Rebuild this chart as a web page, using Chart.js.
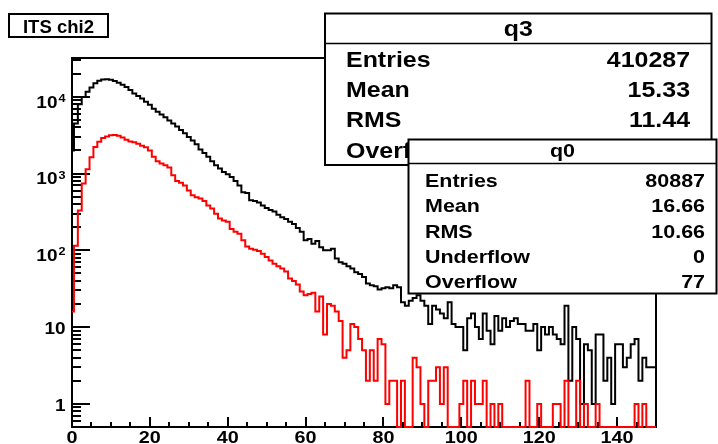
<!DOCTYPE html>
<html>
<head>
<meta charset="utf-8">
<title>ITS chi2</title>
<script src="https://cdn.jsdelivr.net/npm/chart.js@4.4.1/dist/chart.umd.min.js"></script>
<style>
  html, body { margin: 0; padding: 0; background: #fff; }
</style>
</head>
<body>
<canvas id="chi2Chart" width="718" height="444"></canvas>
<script>
// one count per unit bin, bins centred on 0, 1, ... 150
const q3Counts = [
  2000, 4500, 8000, 9900, 11600, 13200, 15000, 16200, 16800, 16900,
  16700, 16000, 15200, 14300, 13400, 12300, 11000, 10200, 9500, 8600,
  7900, 7000, 6400, 5900, 5400, 4900, 4500, 4100, 3700, 3350,
  3000, 2700, 2400, 2050, 1850, 1650, 1450, 1280, 1160, 1050,
  980, 900, 800, 700, 570, 560, 450, 440, 420, 385,
  355, 335, 320, 290, 270, 255, 235, 220, 195, 175,
  135, 140, 122, 132, 110, 100, 100, 105, 78, 70,
  67, 62, 58, 52, 49, 45, 37, 35, 34, 31,
  32, 33, 32, 35, 33, 21, 19, 22, 24, 26,
  22, 19, 11, 19, 17, 15, 13, 21, 11, 10,
  10, 5, 13, 15, 10, 7, 15, 9, 6, 14,
  9, 13, 10, 12, 13, 11, 11, 9, 9, 11,
  5, 10, 8, 10, 8, 7, 6, 19, 2, 10,
  7, 1, 6, 5, 1, 8, 8, 2, 4, 1,
  6, 6, 3, 4, 6, 7, 2, 4, 3, 3,
  3
];
const q0Counts = [
  16, 115, 330, 740, 1140, 1630, 2220, 2600, 2900, 3050,
  3150, 3170, 3100, 2950, 2750, 2620, 2550, 2450, 2300, 2200,
  2000, 1650, 1450, 1350, 1280, 1200, 950, 800, 760, 700,
  600, 520, 490, 475, 440, 385, 350, 300, 260, 245,
  235, 190, 175, 165, 135, 112, 105, 102, 98, 90,
  82, 74, 67, 62, 58, 53, 43, 40, 36, 29,
  26, 27, 28, 16, 25, 8, 20, 19, 16, 12,
  4, 5, 11, 10, 7, 5, 2, 5, 2, 7,
  6, 1, 2, 2, 0, 2, 0, 0, 4, 3,
  1, 0, 2, 2, 3, 1, 3, 0, 0, 0,
  1, 2, 0, 2, 1, 1, 2, 0, 1, 0,
  1, 0, 0, 0, 0, 0, 0, 2, 0, 0,
  1, 0, 0, 0, 1, 1, 0, 2, 0, 0,
  2, 0, 1, 0, 0, 1, 0, 0, 0, 0,
  0, 0, 0, 0, 0, 1, 0, 1, 0, 0,
  0
];

const xMajorTicks = [0, 20, 40, 60, 80, 100, 120, 140];
const yMajorTicks = [1, 10, 100, 1000, 10000];

const q3StatLabels = ['Entries', 'Mean', 'RMS', 'Overflow'];
const q3StatValues = ['410287', '15.33', '11.44'];
const q0StatLabels = ['Entries', 'Mean', 'RMS', 'Underflow', 'Overflow'];
const q0StatValues = ['80887', '16.66', '10.66', '0', '77'];

const Y_MIN = 0.5;
const Y_MAX = 32000;
const FONT = "'Liberation Sans', Arial, sans-serif";

// step outline: a point at each bin's left edge, empty bins rest on the frame bottom
function histPoints(counts) {
  const pts = counts.map((c, i) => ({ x: i - 0.5, y: c > 0 ? c : Y_MIN }));
  pts.push({ x: counts.length - 0.5, y: pts[pts.length - 1].y });
  return pts;
}

// ROOT text comes out a bit wider than Arial, so squeeze it through a scale
function stretchText(ctx, str, x, y, align, size, sx) {
  ctx.save();
  ctx.font = 'bold ' + size + 'px ' + FONT;
  ctx.textAlign = align;
  ctx.textBaseline = 'alphabetic';
  ctx.translate(x, y);
  ctx.scale(sx, 1);
  ctx.fillText(str, 0, 0);
  ctx.restore();
}

function textWidth(ctx, str, size, sx) {
  ctx.save();
  ctx.font = 'bold ' + size + 'px ' + FONT;
  const w = ctx.measureText(str).width * sx;
  ctx.restore();
  return w;
}

const framePlugin = {
  id: 'rootFrame',
  beforeDatasetsDraw(chart) {
    const { ctx, chartArea: a, scales: { x, y } } = chart;
    ctx.save();
    ctx.strokeStyle = '#000';
    ctx.fillStyle = '#000';
    ctx.lineWidth = 2;
    ctx.strokeRect(a.left, a.top, a.right - a.left, a.bottom - a.top);

    // x ticks every 5, long ones with labels every 20
    ctx.beginPath();
    for (let v = 0; v <= 150; v += 5) {
      const px = Math.round(x.getPixelForValue(v));
      const len = xMajorTicks.includes(v) ? 10 : 5;
      ctx.moveTo(px, a.bottom);
      ctx.lineTo(px, a.bottom - len);
    }
    // y ticks 1..9 per decade
    for (let d = 0.1; d <= 10000; d *= 10) {
      for (let m = 1; m <= 9; m++) {
        const v = m * d;
        if (v < Y_MIN || v > Y_MAX) continue;
        const py = Math.round(y.getPixelForValue(v));
        ctx.moveTo(a.left, py);
        ctx.lineTo(a.left + (m === 1 ? 18 : 9), py);
      }
    }
    ctx.stroke();

    xMajorTicks.forEach(v => {
      stretchText(ctx, String(v), x.getPixelForValue(v), 443, 'center', 16.5, 1.2);
    });

    yMajorTicks.forEach(v => {
      const py = y.getPixelForValue(v);
      const exp = Math.round(Math.log10(v));
      if (exp < 2) {
        stretchText(ctx, String(v), 65.5, py + 7, 'right', 16.5, 1.15);
      } else {
        const ew = textWidth(ctx, String(exp), 11, 1.15);
        stretchText(ctx, String(exp), 65.5, py + 5, 'right', 11, 1.15);
        stretchText(ctx, '10', 65.5 - ew - 1, py + 10.8, 'right', 16.5, 1.15);
      }
    });
    ctx.restore();
  },
  afterDraw(chart) {
    const ctx = chart.ctx;
    ctx.save();
    ctx.strokeStyle = '#000';
    ctx.fillStyle = '#000';

    // histogram title
    ctx.lineWidth = 2;
    ctx.fillStyle = '#fff';
    ctx.fillRect(9, 14, 99, 23);
    ctx.strokeRect(9, 14, 99, 23);
    ctx.fillStyle = '#000';
    stretchText(ctx, 'ITS chi2', 58.5, 33.3, 'center', 18, 1.03);

    statBox(ctx, {
      left: 325, top: 13.5, right: 711.5, bottom: 165, sep: 43.5,
      title: 'q3', titleBase: 35.5, size: 21.5, labelX: 346, valueX: 690,
      rows: [66.7, 97, 127.3, 157.6], labels: q3StatLabels, values: q3StatValues
    });
    statBox(ctx, {
      left: 408.5, top: 139.5, right: 716.5, bottom: 293.5, sep: 163.5,
      title: 'q0', titleBase: 156.5, size: 18.5, labelX: 425, valueX: 705,
      rows: [186.7, 212, 237.5, 263, 288.3], labels: q0StatLabels, values: q0StatValues
    });
    ctx.restore();
  }
};

function statBox(ctx, b) {
  ctx.fillStyle = '#fff';
  ctx.fillRect(b.left, b.top, b.right - b.left, b.bottom - b.top);
  ctx.lineWidth = 2;
  ctx.strokeRect(b.left, b.top, b.right - b.left, b.bottom - b.top);
  ctx.lineWidth = 1.5;
  ctx.beginPath();
  ctx.moveTo(b.left, b.sep);
  ctx.lineTo(b.right, b.sep);
  ctx.stroke();
  ctx.fillStyle = '#000';
  stretchText(ctx, b.title, (b.left + b.right) / 2, b.titleBase, 'center', b.size, 1.16);
  b.labels.forEach((lab, i) => {
    stretchText(ctx, lab, b.labelX, b.rows[i], 'left', b.size, 1.16);
    if (b.values[i] !== undefined) {
      stretchText(ctx, b.values[i], b.valueX, b.rows[i], 'right', b.size, 1.16);
    }
  });
}

const ctx = document.getElementById('chi2Chart').getContext('2d');
const chart = new Chart(ctx, {
  type: 'line',
  data: {
    datasets: [
      {
        label: 'q0',
        data: histPoints(q0Counts),
        borderColor: '#ff0000',
        borderWidth: 2,
        stepped: true,
        pointRadius: 0,
        fill: false,
        clip: { left: 0, top: 0, right: 0, bottom: 2 }
      },
      {
        label: 'q3',
        data: histPoints(q3Counts),
        borderColor: '#000000',
        borderWidth: 2,
        stepped: true,
        pointRadius: 0,
        fill: false,
        clip: { left: 0, top: 0, right: 0, bottom: 2 }
      }
    ]
  },
  options: {
    responsive: false,
    animation: false,
    parsing: true,
    layout: { padding: { left: 72, top: 58, right: 62, bottom: 17 } },
    plugins: {
      legend: { display: false },
      tooltip: { enabled: false }
    },
    scales: {
      x: { type: 'linear', min: 0, max: 150, display: false },
      y: { type: 'logarithmic', min: Y_MIN, max: Y_MAX, display: false }
    }
  },
  plugins: [framePlugin]
});
</script>
</body>
</html>
